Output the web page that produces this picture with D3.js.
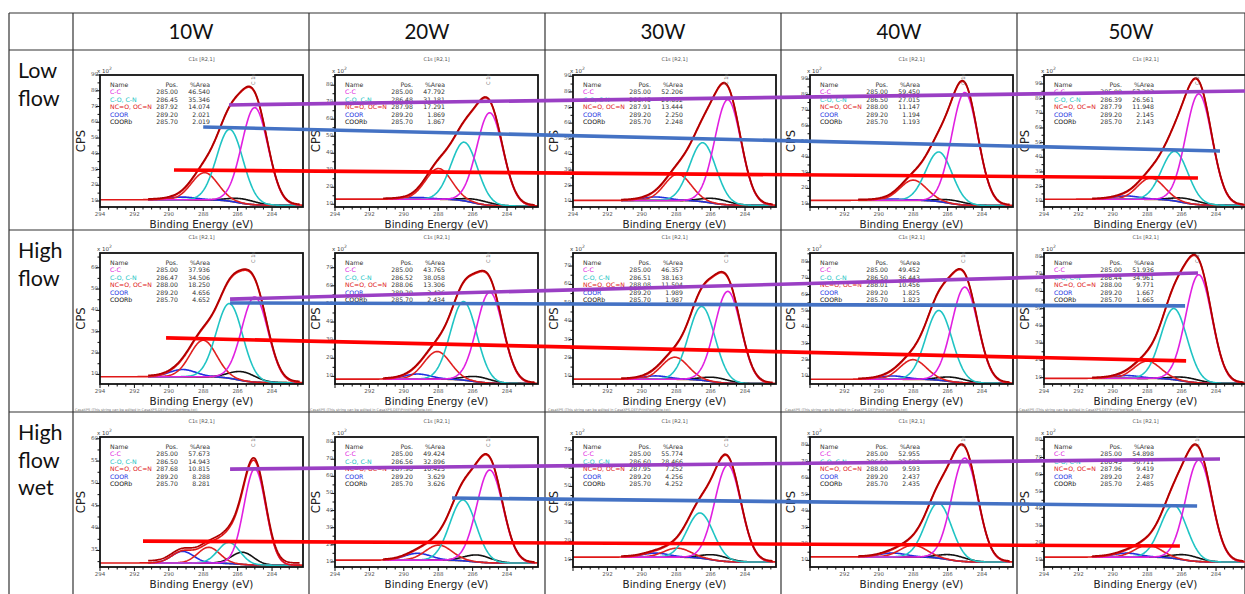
<!DOCTYPE html>
<html><head><meta charset="utf-8">
<script src="https://cdn.jsdelivr.net/npm/d3@7"></script>
<style>body{margin:0;background:#fff}svg{display:block}</style>
</head><body>
<svg id="c" width="1245" height="594"></svg>
<script>
// ---------------- DATA ----------------
const columns = ["10W", "20W", "30W", "40W", "50W"];
const rowLabels = [["Low", "flow"], ["High", "flow"], ["High", "flow", "wet"]];
const componentNames = ["C-C", "C-O, C-N", "NC=O, OC=N", "COOR", "COORb"];

// peak positions (eV) per panel [row][col][component]
const positions = [
  [[285.00,286.45,287.92,289.20,285.70],[285.00,286.48,287.98,289.20,285.70],[285.00,286.45,287.91,289.20,285.70],[285.00,286.50,288.00,289.20,285.70],[285.00,286.39,287.79,289.20,285.70]],
  [[285.00,286.47,288.00,289.20,285.70],[285.00,286.52,288.06,289.20,285.70],[285.00,286.51,288.08,289.20,285.70],[285.00,286.50,288.01,289.20,285.70],[285.00,286.44,288.00,289.20,285.70]],
  [[285.00,286.50,287.68,289.20,285.70],[285.00,286.56,287.98,289.20,285.70],[285.00,286.60,287.95,289.20,285.70],[285.00,286.53,288.00,289.20,285.70],[285.00,286.45,287.96,289.20,285.70]]
];
// %Area per panel
const areas = [
  [[46.540,35.346,14.074,2.021,2.019],[47.792,31.181,17.291,1.869,1.867],[52.206,29.852,13.444,2.250,2.248],[59.450,27.015,11.147,1.194,1.193],[57.203,26.561,11.948,2.145,2.143]],
  [[37.936,34.506,18.250,4.656,4.652],[43.765,38.058,13.306,2.436,2.434],[46.357,38.163,11.504,1.989,1.987],[49.452,36.443,10.456,1.825,1.823],[51.936,34.961,9.771,1.667,1.665]],
  [[57.673,14.943,10.815,8.288,8.281],[49.424,32.896,10.425,3.629,3.626],[55.774,28.466,7.252,4.256,4.252],[52.955,32.580,9.593,2.437,2.435],[54.898,30.711,9.419,2.487,2.485]]
];
// apex heights of each component curve (CPS x10^2)
const apexHeights = [
  [[69.3,55.5,28.0,12.5,11.3],[63.8,46.5,31.0,14.0,12.6],[75.0,47.5,27.4,12.8,11.7],[81.4,43.3,25.3,13.2,12.4],[83.2,44.0,25.9,13.6,11.8]],
  [[46.3,43.2,26.0,12.3,11.2],[56.5,51.3,23.7,11.3,9.8],[56.2,48.0,20.4,10.2,9.3],[64.6,50.3,20.2,10.2,9.4],[69.7,50.1,19.6,11.2,10.0]],
  [[53.3,36.8,35.7,34.8,34.6],[63.7,46.2,19.8,15.0,14.0],[61.7,35.5,16.3,13.6,12.5],[72.2,44.9,19.3,14.5,13.3],[68.5,42.2,18.8,14.1,13.0]]
];
// background level at high-BE side and low-BE side
const bgHigh = [[10.8,13.0,10.6,12.4,11.4],[8.9,8.5,8.4,8.2,9.6],[32.2,11.0,11.4,12.1,11.8]];
const bgLow  = [[7.3,9.0,7.5,9.0,7.3],[6.1,6.1,6.0,5.8,6.7],[31.7,9.3,8.7,9.0,8.9]];
const fwhm   = [[1.8,1.8,1.8,1.8,1.8],[1.8,1.8,1.8,1.8,1.8],[1.5,1.8,1.8,1.8,1.8]];
// y axis ranges (x10^2) and tick steps
const yDomains = [
  [[6.2,90],[8.4,86],[6.4,90.8],[8.1,92.6],[6.1,96.1]],
  [[5.5,66.9],[5.8,78.1],[5.8,77.1],[5.3,85.5],[6.3,82.3]],
  [[31.3,60.4],[7,83],[6,77],[6,85],[6,82]]
];
const yTickStep = [[10,10,10,10,10],[10,10,10,10,10],[5,10,10,10,10]];
const xDomain = [294, 282.2];
const xTickLabels = [294, 292, 290, 288, 286, 284];
const hide294 = [[false,false,false,true,false],[false,true,true,true,false],[false,false,true,true,false]];
// trend lines drawn across each row: endpoints in panel data coordinates
const trendLines = [
  {row:0, color:"#9a3fc4", from:{col:0, be:286.50, v:71.0}, to:{col:4, be:282.31, v:85.2}},
  {row:0, color:"#4472c4", from:{col:0, be:288.00, v:57.0}, to:{col:4, be:283.77, v:44.3}},
  {row:0, color:"#ff0000", from:{col:0, be:289.70, v:29.7}, to:{col:4, be:285.05, v:25.9}},
  {row:1, color:"#9a3fc4", from:{col:0, be:286.44, v:45.3}, to:{col:4, be:285.05, v:70.7}},
  {row:1, color:"#4472c4", from:{col:0, be:286.44, v:43.5}, to:{col:4, be:285.80, v:51.6}},
  {row:1, color:"#ff0000", from:{col:0, be:290.16, v:27.1}, to:{col:4, be:285.74, v:19.7}},
  {row:2, color:"#9a3fc4", from:{col:0, be:286.44, v:53.2}, to:{col:4, be:283.77, v:69.1}},
  {row:2, color:"#4472c4", from:{col:1, be:287.20, v:47.3}, to:{col:4, be:285.10, v:41.7}},
  {row:2, color:"#ff0000", from:{col:0, be:291.50, v:37.1}, to:{col:4, be:286.10, v:18.3}}
];

// ---------------- LAYOUT ----------------
const gridX = [9, 73, 309, 545, 781, 1017, 1245];
const gridY = [13, 50, 230, 412, 594];
const boxLeft = [100, 335, 573, 810, 1044];
const boxTop = [75, 253, 437];
const boxH = [132, 131, 130];
const boxW = 203;
const compColors = ["#e020e0", "#20c4c4", "#e02020", "#2030e0", "#111111"];
const region = [291.2, 282.4];
const panelFont = "DejaVu Sans, Verdana, sans-serif";

const svg = d3.select("#c");
const defs = svg.append("defs");

// table grid
const grid = svg.append("g").attr("stroke", "#333").attr("stroke-width", 1.2);
gridX.forEach(x => grid.append("line").attr("x1", x).attr("x2", x).attr("y1", gridY[0]).attr("y2", 594));
gridY.slice(0, 4).forEach(y => grid.append("line").attr("x1", gridX[0]).attr("x2", 1245).attr("y1", y).attr("y2", y));

// header
columns.forEach((t, i) => {
  svg.append("text").attr("x", (gridX[i+1] + gridX[i+2]) / 2).attr("y", 39)
    .attr("text-anchor", "middle").attr("font-family", "Lato, Calibri, sans-serif")
    .attr("font-size", 20.5).attr("fill", "#111").text(t);
});
rowLabels.forEach((lines, r) => {
  lines.forEach((t, k) => {
    svg.append("text").attr("x", 18).attr("y", gridY[r+1] + 28 + k * 27.5)
      .attr("font-family", "Lato, Calibri, sans-serif").attr("font-size", 21.5)
      .attr("fill", "#111").text(t);
  });
});

function bgAt(r, c, E) {
  const hi = bgHigh[r][c], lo = bgLow[r][c];
  return lo + (hi - lo) * 0.5 * (1 + Math.tanh((E - 286.0) / 0.9));
}

const scales = {};
for (let r = 0; r < 3; r++) {
  for (let c = 0; c < 5; c++) {
    const L = boxLeft[c], T = boxTop[r], H = boxH[r];
    const x = d3.scaleLinear().domain(xDomain).range([L, L + boxW]);
    const y = d3.scaleLinear().domain(yDomains[r][c]).range([T + H, T]);
    scales[r + "-" + c] = {x, y};
    const g = svg.append("g");
    const clipId = "clip" + r + c;
    defs.append("clipPath").attr("id", clipId).append("rect")
      .attr("x", L).attr("y", T).attr("width", boxW).attr("height", H);

    // title
    g.append("text").attr("x", L + boxW / 2).attr("y", T - 14).attr("text-anchor", "middle")
      .attr("font-family", panelFont).attr("font-size", 5).attr("fill", "#555").text("C1s [R2,1]");
    // x10^2
    const mt = g.append("text").attr("x", L - 3).attr("y", T - 2).attr("font-family", panelFont)
      .attr("font-size", 5.5).attr("fill", "#444");
    mt.append("tspan").text("x 10");
    mt.append("tspan").attr("dy", -3).attr("font-size", 4.5).text("2");

    // curves
    const sigma = fwhm[r][c] / 2.3548;
    const pos = positions[r][c], ap = apexHeights[r][c];
    const amps = ap.map((a, k) => a - bgAt(r, c, pos[k]));
    const comp = (k, E) => amps[k] * Math.exp(-((E - pos[k]) ** 2) / (2 * sigma * sigma));
    const allE = d3.range(xDomain[0], xDomain[1] - 1e-9, -0.04);
    const regE = allE.filter(E => E <= region[0] && E >= region[1]);
    const total = E => bgAt(r, c, E) + d3.sum([0,1,2,3,4], k => comp(k, E));
    const cg = g.append("g").attr("clip-path", `url(#${clipId})`).attr("fill", "none");
    const line = d3.line().x(d => x(d[0])).y(d => y(d[1]));
    cg.append("path").attr("d", line(regE.map(E => [E, bgAt(r, c, E)])))
      .attr("stroke", "#a0601c").attr("stroke-width", 1.7);
    [4, 3, 2, 1, 0].forEach(k => {
      cg.append("path").attr("d", line(regE.map(E => [E, bgAt(r, c, E) + comp(k, E)])))
        .attr("stroke", compColors[k]).attr("stroke-width", 1.6);
    });
    cg.append("path").attr("d", line(allE.map(E => [E, total(E)])))
      .attr("stroke", "#e01818").attr("stroke-width", 1.7);
    cg.append("path").attr("d", line(regE.map(E => [E, total(E) + 0.5])))
      .attr("stroke", "#b00000").attr("stroke-width", 1.7);

    // box
    g.append("rect").attr("x", L).attr("y", T).attr("width", boxW).attr("height", H)
      .attr("fill", "none").attr("stroke", "#111").attr("stroke-width", 1.8);

    // x ticks
    const minorX = d3.range(294, 282.2, -0.5);
    minorX.forEach(v => {
      const major = Math.abs(v % 2) < 1e-9;
      g.append("line").attr("x1", x(v)).attr("x2", x(v)).attr("y1", T + H).attr("y2", T + H + (major ? 4 : 2.5))
        .attr("stroke", "#111").attr("stroke-width", 1);
    });
    xTickLabels.forEach(v => {
      if (v === 294 && hide294[r][c]) return;
      g.append("text").attr("x", x(v)).attr("y", T + H + 9).attr("text-anchor", "middle")
        .attr("font-family", panelFont).attr("font-size", 5.5).attr("fill", "#555").text(v);
    });
    // y ticks
    const [y0, y1] = yDomains[r][c], st = yTickStep[r][c];
    d3.range(Math.ceil(y0 / (st / 2)) * (st / 2), y1 + 1e-9, st / 2).forEach(v => {
      const major = Math.abs(v % st) < 1e-9;
      g.append("line").attr("x1", L).attr("x2", L - (major ? 4 : 2.5)).attr("y1", y(v)).attr("y2", y(v))
        .attr("stroke", "#111").attr("stroke-width", 1);
      if (major) g.append("text").attr("x", L - 2).attr("y", y(v) + 1).attr("text-anchor", "end")
        .attr("font-family", panelFont).attr("font-size", 5.5).attr("fill", "#555").text(v);
    });
    // axis titles
    g.append("text").attr("transform", `translate(${L - 15},${T + H / 2}) rotate(-90)`)
      .attr("text-anchor", "middle").attr("font-family", panelFont).attr("font-size", 11.5)
      .attr("fill", "#222").text("CPS");
    g.append("text").attr("x", L + boxW / 2).attr("y", T + H + 21).attr("text-anchor", "middle")
      .attr("font-family", panelFont).attr("font-size", 10.4).attr("fill", "#222").text("Binding Energy (eV)");
    // C 1s marker
    g.append("text").attr("transform", `translate(${x(285.1) + 2},${T - 1}) rotate(-90)`)
      .attr("text-anchor", "end").attr("font-family", panelFont).attr("font-size", 5)
      .attr("fill", "#666").text("C 1s");

    // legend
    const lg = g.append("g").attr("font-family", panelFont).attr("font-size", 6.2);
    const ly = T + 12;
    lg.append("text").attr("x", L + 10).attr("y", ly).attr("fill", "#333").text("Name");
    lg.append("text").attr("x", L + 78).attr("y", ly).attr("text-anchor", "end").attr("fill", "#333").text("Pos.");
    lg.append("text").attr("x", L + 110).attr("y", ly).attr("text-anchor", "end").attr("fill", "#333").text("%Area");
    componentNames.forEach((n, k) => {
      const yy = ly + 7.4 * (k + 1);
      lg.append("text").attr("x", L + 10).attr("y", yy).attr("fill", compColors[k]).text(n);
      lg.append("text").attr("x", L + 78).attr("y", yy).attr("text-anchor", "end").attr("fill", "#333")
        .text(pos[k].toFixed(2));
      lg.append("text").attr("x", L + 110).attr("y", yy).attr("text-anchor", "end").attr("fill", "#333")
        .text(areas[r][c][k].toFixed(3));
    });
    if (r === 1) {
      g.append("text").attr("x", L - 25).attr("y", T + H + 27).attr("font-family", panelFont)
        .attr("font-size", 3.5).attr("fill", "#777")
        .text("CasaXPS (This string can be edited in CasaXPS.DEF/PrintFootNote.txt)");
    }
  }
}

// trend lines
trendLines.forEach(t => {
  const a = scales[t.row + "-" + t.from.col], b = scales[t.row + "-" + t.to.col];
  svg.append("line")
    .attr("x1", a.x(t.from.be)).attr("y1", a.y(t.from.v))
    .attr("x2", b.x(t.to.be)).attr("y2", b.y(t.to.v))
    .attr("stroke", t.color).attr("stroke-width", 3.6);
});
</script>
</body></html>
